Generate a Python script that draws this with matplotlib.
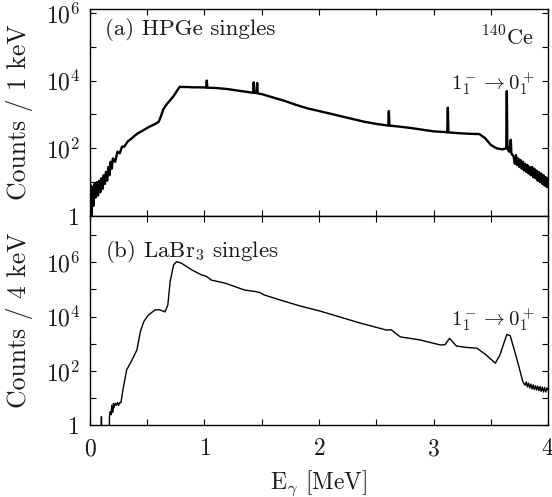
import numpy as np
import matplotlib
matplotlib.use("Agg")
import matplotlib.pyplot as plt
from matplotlib.ticker import FixedLocator, FuncFormatter, MultipleLocator

# (a) HPGe singles, counts per 1 keV
e_hpge = [0.00, 0.01, 0.015, 0.02, 0.03, 0.04, 0.05, 0.06, 0.07, 0.08, 0.09,
          0.10, 0.11, 0.12, 0.13, 0.14, 0.15, 0.16, 0.17, 0.18, 0.19, 0.20,
          0.22, 0.24, 0.26, 0.28, 0.30, 0.33, 0.36, 0.39, 0.42, 0.45, 0.48,
          0.51, 0.54, 0.57, 0.60, 0.62, 0.64, 0.67, 0.70, 0.73, 0.76, 0.785,
          0.80, 0.85, 0.90, 0.95, 1.015, 1.02, 1.025, 1.1, 1.2, 1.3, 1.40,
          1.425, 1.43, 1.435, 1.455, 1.46, 1.465, 1.5, 1.6, 1.7, 1.8, 1.9,
          2.0, 2.1, 2.2, 2.3, 2.4, 2.5, 2.605, 2.61, 2.615, 2.7, 2.8, 2.9,
          3.0, 3.1, 3.12, 3.125, 3.13, 3.2, 3.3, 3.4, 3.45, 3.5, 3.55, 3.6,
          3.635, 3.64, 3.645, 3.66, 3.675, 3.68, 3.70, 3.71, 3.72, 3.73, 3.74,
          3.75, 3.76, 3.77, 3.78, 3.79, 3.80, 3.81, 3.82, 3.83, 3.84, 3.85,
          3.86, 3.87, 3.88, 3.89, 3.90, 3.91, 3.92, 3.93, 3.94, 3.95, 3.96,
          3.97, 3.98, 3.99, 4.0]
c_hpge = [3.2, 7.9, 0.8, 7.1, 2.0, 8.9, 3.5, 10, 4.0, 11, 5.0,
          13, 6.3, 16, 8.9, 20, 11, 28, 16, 40, 25, 50,
          40, 79, 71, 112, 112, 160, 190, 234, 280, 316, 363,
          417, 468, 525, 603, 891, 1410, 2000, 2630, 3470, 5010, 6610,
          6460, 6460, 6310, 6310, 6250, 10000, 6170, 6030, 5620, 5010, 4470,
          4370, 8910, 4370, 4270, 8510, 4170, 3980, 3160, 2510, 1910, 1510,
          1260, 1050, 871, 724, 603, 525, 468, 1260, 468, 437, 398, 355,
          316, 302, 295, 1580, 295, 282, 269, 263, 200, 126, 100, 93,
          100, 4900, 100, 79, 178, 71, 56, 35, 63, 32, 50,
          28, 45, 25, 40, 22, 35, 20, 32, 18, 28, 16,
          28, 14, 25, 13, 22, 11, 20, 10, 18, 8.9, 16,
          7.9, 14, 7.1, 13]

# (b) LaBr3 singles, counts per 4 keV
e_labr = [0.098, 0.10, 0.102, 0.168, 0.17, 0.175, 0.185, 0.19, 0.20, 0.205,
          0.21, 0.22, 0.23, 0.24, 0.25, 0.26, 0.27, 0.29, 0.32, 0.36, 0.41,
          0.44, 0.47, 0.51, 0.57, 0.61, 0.655, 0.68, 0.70, 0.73, 0.757, 0.80,
          0.89, 0.975, 1.0, 1.02, 1.06, 1.18, 1.35, 1.45, 1.485, 1.52, 1.66,
          1.83, 2.01, 2.36, 2.59, 2.63, 2.71, 2.88, 3.06, 3.10, 3.14, 3.2,
          3.29, 3.38, 3.46, 3.54, 3.58, 3.64, 3.67, 3.73, 3.78, 3.80, 3.81,
          3.82, 3.83, 3.84, 3.85, 3.86, 3.87, 3.88, 3.89, 3.90, 3.91, 3.92,
          3.93, 3.94, 3.95, 3.96, 3.97, 3.98, 3.99, 4.0]
c_labr = [0.1, 2.1, 0.1, 0.1, 2.1, 3.2, 2.5, 5.5, 3.0, 6.5,
          4.5, 6.5, 5.5, 7.0, 5.5, 7.0, 6.8, 23, 110, 224, 600,
          2800, 6600, 11500, 17800, 17800, 15000, 27000, 195000, 790000,
          1050000, 910000, 520000, 340000, 320000, 295000, 220000, 170000,
          95000, 83000, 76000, 63000, 41000, 25000, 16000, 5800, 3200, 3300,
          1800, 1400, 910, 930, 1600, 830, 740, 690, 390, 195, 390, 2200,
          2000, 257, 41, 30, 40, 26, 36, 24, 33, 22, 31, 21, 29, 20, 28,
          19, 27, 18, 26, 17, 25, 17, 24, 20]

plt.rcParams["font.family"] = "serif"
plt.rcParams["font.serif"] = ["cmr10"]
plt.rcParams["mathtext.fontset"] = "cm"
plt.rcParams["axes.unicode_minus"] = False
plt.rcParams["axes.formatter.use_mathtext"] = True

FS = 16.5
TXT = "#1a1a1a"


def log_label(v, pos):
    d = int(round(np.log10(v)))
    if d == 0:
        return "1"
    if d % 2:
        return ""
    return r"$10^{%d}$" % d


def style(ax, top):
    ax.set_yscale("log")
    ax.set_xlim(0, 4)
    ax.set_ylim(1, top)
    ax.yaxis.set_major_locator(FixedLocator([10.0 ** k for k in range(0, 8)]))
    ax.yaxis.set_major_formatter(FuncFormatter(log_label))
    ax.yaxis.set_minor_locator(FixedLocator([]))
    ax.xaxis.set_major_locator(MultipleLocator(1))
    ax.xaxis.set_minor_locator(MultipleLocator(0.5))
    ax.tick_params(which="both", direction="in", top=True, right=True,
                   length=4, width=0.8, labelsize=17, colors="black",
                   labelcolor=TXT)
    ax.tick_params(axis="y", pad=7)
    ax.tick_params(axis="x", pad=9)
    for s in ax.spines.values():
        s.set_linewidth(1.0)


fig = plt.figure(figsize=(5.52, 4.97), dpi=100)
ax1 = fig.add_axes([0.163, 0.5654, 0.8298, 0.4165])
ax2 = fig.add_axes([0.163, 0.1439, 0.8298, 0.4215])

ax1.plot(e_hpge, c_hpge, color="black", lw=1.7)
style(ax1, 1.3e6)
ax1.tick_params(axis="x", labelbottom=False)
ax1.set_ylabel("Counts / 1 keV", fontsize=18.5, color=TXT)
ax1.text(0.033, 0.90, "(a) HPGe singles", transform=ax1.transAxes,
         fontsize=FS, color=TXT, va="center", ha="left")
ax1.text(0.97, 0.86, r"$^{140}$Ce", transform=ax1.transAxes,
         fontsize=16, color=TXT, va="center", ha="right")
ax1.text(0.97, 0.64, r"$1^-_1 \rightarrow 0^+_1$", transform=ax1.transAxes,
         fontsize=15, color=TXT, va="center", ha="right")

ax2.plot(e_labr, c_labr, color="black", lw=1.0)
style(ax2, 5e7)
ax2.set_ylabel("Counts / 4 keV", fontsize=18.5, color=TXT)
ax2.set_xlabel(r"E$_\gamma$ [MeV]", fontsize=17, color=TXT, labelpad=6)
ax2.text(0.033, 0.83, "(b) LaBr$_3$ singles", transform=ax2.transAxes,
         fontsize=FS, color=TXT, va="center", ha="left")
ax2.text(0.97, 0.505, r"$1^-_1 \rightarrow 0^+_1$", transform=ax2.transAxes,
         fontsize=15, color=TXT, va="center", ha="right")

for ax in (ax1, ax2):
    ax.yaxis.set_label_coords(-0.125, 0.5)

fig.savefig("out.png", dpi=100)
